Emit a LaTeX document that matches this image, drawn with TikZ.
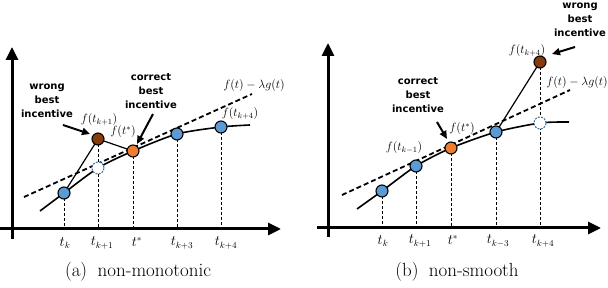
\documentclass[tikz,border=0pt]{standalone}
\usepackage{fontspec}
\newfontfamily\labfont{DejaVu Sans}
\usetikzlibrary{arrows.meta}
\definecolor{ptblue}{HTML}{5B9BD5}
\definecolor{ptorange}{HTML}{ED7D31}
\definecolor{ptbrown}{HTML}{843C0C}
\definecolor{hollowblue}{HTML}{41719C}
\begin{document}
\begin{tikzpicture}[x=1pt,y=-1pt,
  axis/.style={line width=3pt,-{Triangle[length=13pt,width=12pt]}},
  pt/.style={circle,draw,line width=1.1pt,minimum size=12pt,inner sep=0pt},
  bluept/.style={pt,fill=ptblue},
  orangept/.style={pt,fill=ptorange},
  brownpt/.style={pt,fill=ptbrown},
  hollowpt/.style={circle,draw=hollowblue,dash pattern=on 2pt off 1.2pt,fill=white,line width=1pt,minimum size=12pt,inner sep=0pt},
  curve/.style={line width=1.6pt},
  tangent/.style={line width=1.8pt,dash pattern=on 5pt off 3pt},
  drop/.style={line width=0.9pt,dash pattern=on 3pt off 2pt},
  lab/.style={font=\labfont\bfseries\fontsize{10}{14}\selectfont,align=center,inner sep=0pt},
  pointer/.style={line width=2pt,-{Triangle[length=8pt,width=7pt]}},
  flab/.style={font=\fontsize{11.5}{13}\selectfont,inner sep=0pt},
  ticklab/.style={font=\fontsize{13.5}{15}\selectfont,inner sep=0pt},
  captext/.style={font=\fontsize{19}{22}\selectfont,inner sep=0pt}]
\useasboundingbox (0,0) rectangle (608,288);

% ---------- left panel ----------
\coordinate (LyB) at (12,239);
\coordinate (LyT) at (12,47);
\coordinate (LxL) at (0,229);
\coordinate (LxR) at (281,229);
\draw[axis] (LyB) -- (LyT);
\draw[axis] (LxL) -- (LxR);

\coordinate (Lc0) at (40,211);
\coordinate (pLtk) at (64,193);
\coordinate (pLh) at (98,168);
\coordinate (pLb) at (98,139);
\coordinate (pLts) at (133,151);
\coordinate (pLt3) at (177,134);
\coordinate (pLt4) at (221,127);
\coordinate (Lc1) at (250,125);
\coordinate (LtA) at (24,197);
\coordinate (LtB) at (252,94);

\foreach \p in {pLtk,pLb,pLts,pLt3,pLt4}
  \draw[drop] (\p) -- (\p |- LxL);
\draw[curve] plot[smooth,tension=0.45] coordinates {(Lc0) (pLtk) (pLh) (pLts) (pLt3) (pLt4) (Lc1)};
\draw[tangent] (LtA) -- (LtB);
\draw[line width=1.2pt] (pLtk) -- (pLb) -- (pLts);

\node[bluept] (Ltk) at (pLtk) {};
\node[hollowpt] (Lh) at (pLh) {};
\node[brownpt] (Lb) at (pLb) {};
\node[orangept] (Lts) at (pLts) {};
\node[bluept] (Lt3) at (pLt3) {};
\node[bluept] (Lt4) at (pLt4) {};

\node[ticklab] (lLtk) at (65,243) {$t_k$};
\node[ticklab] (lLtk1) at (102,243) {$t_{k+1}$};
\node[ticklab] (lLts) at (137,242) {$t^*$};
\node[ticklab] (lLt3) at (182,243) {$t_{k+3}$};
\node[ticklab] (lLt4) at (226,243) {$t_{k+4}$};

\node[flab] (fLb) at (99,120) {$f(t_{k+1})$};
\node[flab] (fLts) at (123,132) {$f(t^*)$};
\node[flab] (fLt4) at (240,114) {$f(t_{k+4})$};
\node[flab] (fLtan) at (254,86) {$f(t)-\lambda g(t)$};

\node[lab] (wL) at (47,101) {wrong\\best\\incentive};
\node[lab] (cL) at (151,91) {correct\\best\\incentive};
\coordinate (wLs) at (63,125);
\coordinate (wLe) at (90,134);
\coordinate (cLs) at (153,114);
\coordinate (cLe) at (137,144);
\draw[pointer] (wLs) -- (wLe);
\draw[pointer] (cLs) -- (cLe);

\node[captext] (capA) at (138,272) {(a)\hspace{0.55em}non-monotonic};

% ---------- right panel ----------
\coordinate (RyB) at (328,237);
\coordinate (RyT) at (328,43);
\coordinate (RxL) at (317,228);
\coordinate (RxR) at (601,228);
\draw[axis] (RyB) -- (RyT);
\draw[axis] (RxL) -- (RxR);

\coordinate (Rc0) at (357,209);
\coordinate (pRtk) at (382,191);
\coordinate (pRtk1) at (416,166);
\coordinate (pRts) at (451,148);
\coordinate (pRt3) at (496,132);
\coordinate (pRh) at (540,123);
\coordinate (pRb) at (540,62);
\coordinate (Rc1) at (569,122);
\coordinate (RtA) at (342,195);
\coordinate (RtB) at (570,90);

\foreach \p in {pRtk,pRtk1,pRts,pRt3,pRb}
  \draw[drop] (\p) -- (\p |- RxL);
\draw[curve] plot[smooth,tension=0.45] coordinates {(Rc0) (pRtk) (pRtk1) (pRts) (pRt3) (pRh) (Rc1)};
\draw[tangent] (RtA) -- (RtB);
\draw[line width=1.2pt] (pRt3) -- (pRb);

\node[bluept] (Rtk) at (pRtk) {};
\node[bluept] (Rtk1) at (pRtk1) {};
\node[orangept] (Rts) at (pRts) {};
\node[bluept] (Rt3) at (pRt3) {};
\node[hollowpt] (Rh) at (pRh) {};
\node[brownpt] (Rb) at (pRb) {};

\node[ticklab] (lRtk) at (383,241) {$t_k$};
\node[ticklab] (lRtk1) at (420,241) {$t_{k+1}$};
\node[ticklab] (lRts) at (453,240) {$t^*$};
\node[ticklab] (lRt3) at (498,241) {$t_{k-3}$};
\node[ticklab] (lRt4) at (543,241) {$t_{k+4}$};

\node[flab] (fRtk1) at (404,148) {$f(t_{k-1})$};
\node[flab] (fRts) at (462,129) {$f(t^*)$};
\node[flab] (fRb) at (527,51) {$f(t_{k+4})$};
\node[flab] (fRtan) at (577,83) {$f(t)-\lambda g(t)$};

\node[lab] (wR) at (580,20) {wrong\\best\\incentive};
\node[lab] (cR) at (418,95) {correct\\best\\incentive};
\coordinate (wRs) at (575,47);
\coordinate (wRe) at (552,54);
\coordinate (cRs) at (437,122);
\coordinate (cRe) at (447,139);
\draw[pointer] (wRs) -- (wRe);
\draw[pointer] (cRs) -- (cRe);

\node[captext] (capB) at (457,272) {(b)\hspace{0.55em}non-smooth};
\end{tikzpicture}
\end{document}
